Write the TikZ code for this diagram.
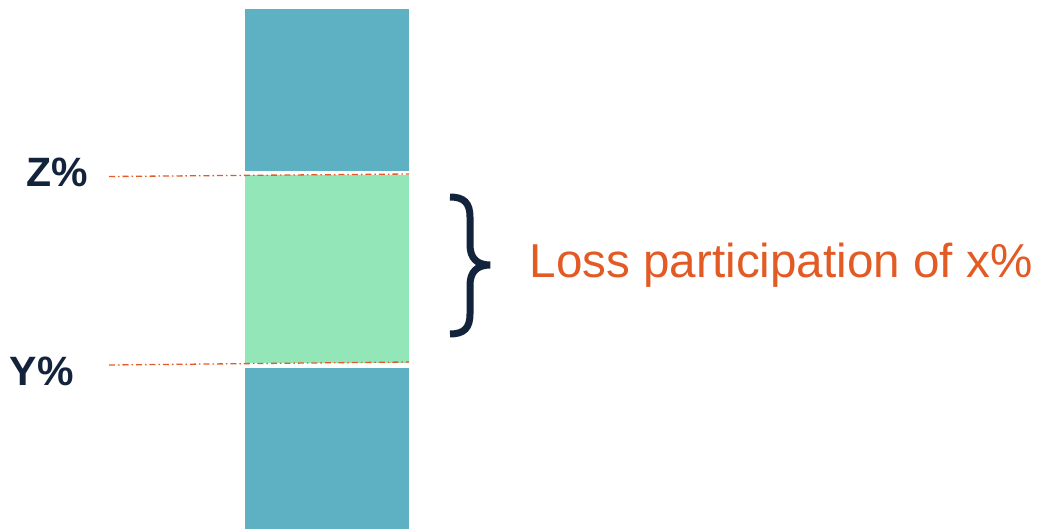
\documentclass[tikz,border=0pt]{standalone}
\usepackage{fontspec}
\setmainfont{Liberation Sans}
\definecolor{barblue}{HTML}{5EB0C3}
\definecolor{bargreen}{HTML}{93E6B8}
\definecolor{accent}{HTML}{E35B24}
\definecolor{navy}{HTML}{13233B}
\begin{document}
\begin{tikzpicture}[x=1pt,y=-1pt,
  bar/.style={draw=none,inner sep=0,outer sep=0,minimum width=164pt,anchor=north west},
  level/.style={draw=accent,line width=1.3pt,dash pattern=on 6pt off 3pt on 1.5pt off 3pt},
  pct/.style={inner sep=0,anchor=base west,text=navy,font=\bfseries\fontsize{41}{41}\selectfont}]
\useasboundingbox (0,0) rectangle (1041,529);
\node[bar,fill=barblue,minimum height=162pt] (top) at (245,9) {};
\node[bar,fill=bargreen,minimum height=188pt] (mid) at (245,175) {};
\node[bar,fill=barblue,minimum height=161pt] (bot) at (245,368) {};
\coordinate (zl) at (109,176.5);
\coordinate (zr) at (409,174);
\coordinate (yl) at (109,365);
\coordinate (yr) at (409,362);
\draw[level] (zl) -- (zr);
\draw[level] (yl) -- (yr);
\node[pct] (z) at (26,187) {Z\%};
\node[pct] (y) at (9.5,385) {Y\%};
\draw[navy,line width=7pt] (450,197) .. controls (464,197) and (470,203) .. (470,217) -- (470,245) .. controls (470,258) and (477,265) .. (490,265) .. controls (477,265) and (470,272) .. (470,285) -- (470,314) .. controls (470,328) and (464,334) .. (450,334);
\node[inner sep=0,anchor=base west,text=accent,font=\fontsize{47.6}{47.6}\selectfont] (lbl) at (529.5,277) {Loss participation of x\%};
\end{tikzpicture}
\end{document}
